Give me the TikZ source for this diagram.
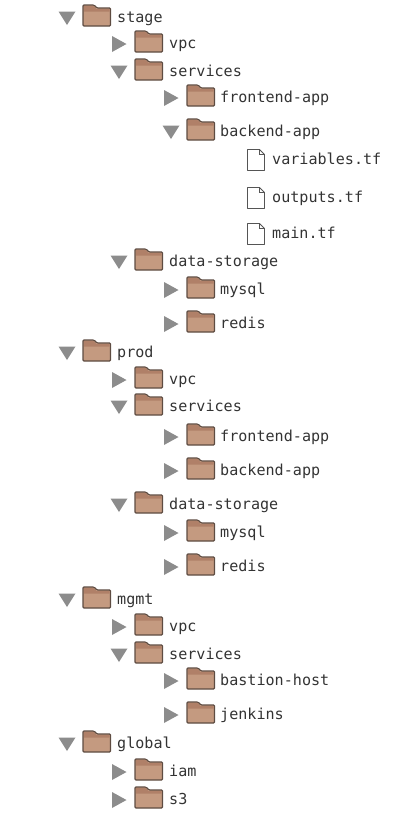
\documentclass[tikz,border=0pt]{standalone}
\usepackage{fontspec}
\setmonofont{DejaVu Sans Mono}
\definecolor{FolderBody}{HTML}{C49A80}
\definecolor{FolderTop}{HTML}{B08068}
\definecolor{FolderLine}{HTML}{5E4C42}
\definecolor{ArrowGrey}{HTML}{8C8C8C}
\definecolor{LabelInk}{HTML}{333333}
\definecolor{FileLine}{HTML}{555555}
\tikzset{
  treelabel/.style={anchor=base west,inner sep=0pt,text=LabelInk,
    font=\fontsize{15.1}{17}\selectfont\ttfamily},
  folder/.pic={
    \draw[FolderLine,fill=FolderBody,line width=1.1pt,rounded corners=1pt]
      (0,8.5)--(0,-12.5)--(11,-12.5)--(14,-9.5)--(27.5,-9.5)--(27.5,8.5)--cycle;
    \fill[FolderTop] (1,-11.5)--(10.5,-11.5)--(13.5,-8.5)--(26.5,-8.5)--(26.5,-6)--(1,-6)--cycle;
  },
  tfile/.pic={
    \draw[FileLine,fill=white,line width=.9pt,line join=round]
      (0,10.5)--(0,-10.5)--(12,-10.5)--(17,-5.5)--(17,10.5)--cycle;
    \draw[FileLine,line width=.9pt] (12,-10.5)--(12,-5.5)--(17,-5.5);
  },
  openfolder/.pic={\fill[ArrowGrey] (-8.5,-5.5)--(8.5,-5.5)--(0,8)--cycle;},
  shutfolder/.pic={\fill[ArrowGrey] (-7,-7)--(7.5,1)--(-7,9)--cycle;}
}
\begin{document}
\begin{tikzpicture}[x=1pt,y=-1pt]
  \useasboundingbox (0,0) rectangle (420,820);
  % folder rows: level x, row y, open or shut, name, label
  \foreach \xx/\yy/\lx/\st/\nm/\txt in {
    67/17/117/open/stage/stage,
    119/43/169/shut/stagevpc/vpc,
    119/71/169/open/stagesvc/services,
    171/97/220/shut/stagefront/frontend-app,
    171/131/220/open/stageback/backend-app,
    119/261/169/open/stagedata/data-storage,
    171/289/220/shut/stagemysql/mysql,
    171/323/220/shut/stageredis/redis,
    67/352/117/open/prod/prod,
    119/379/169/shut/prodvpc/vpc,
    119/406/169/open/prodsvc/services,
    171/436/220/shut/prodfront/frontend-app,
    171/470/220/shut/prodback/backend-app,
    119/504/169/open/proddata/data-storage,
    171/532/220/shut/prodmysql/mysql,
    171/566/220/shut/prodredis/redis,
    67/599/117/open/mgmt/mgmt,
    119/626/169/shut/mgmtvpc/vpc,
    119/654/169/open/mgmtsvc/services,
    171/680/220/shut/mgmtbastion/bastion-host,
    171/714/220/shut/mgmtjenkins/jenkins,
    67/743/117/open/global/global,
    119/771/169/shut/globaliam/iam,
    119/799/169/shut/globals/s3}{
    \pic at (\xx,\yy) {\st folder};
    \pic at (\xx+16,\yy+.5) {folder};
    \node[treelabel] (\nm) at (\lx,\yy+5.5) {\txt};
  }
  % the three files
  \foreach \yy/\nm/\txt in {159/fvariables/variables.tf,197/foutputs/outputs.tf,233/fmain/main.tf}{
    \pic at (247.5,\yy+1) {tfile};
    \node[treelabel] (\nm) at (272,\yy+5.5) {\txt};
  }
\end{tikzpicture}
\end{document}
